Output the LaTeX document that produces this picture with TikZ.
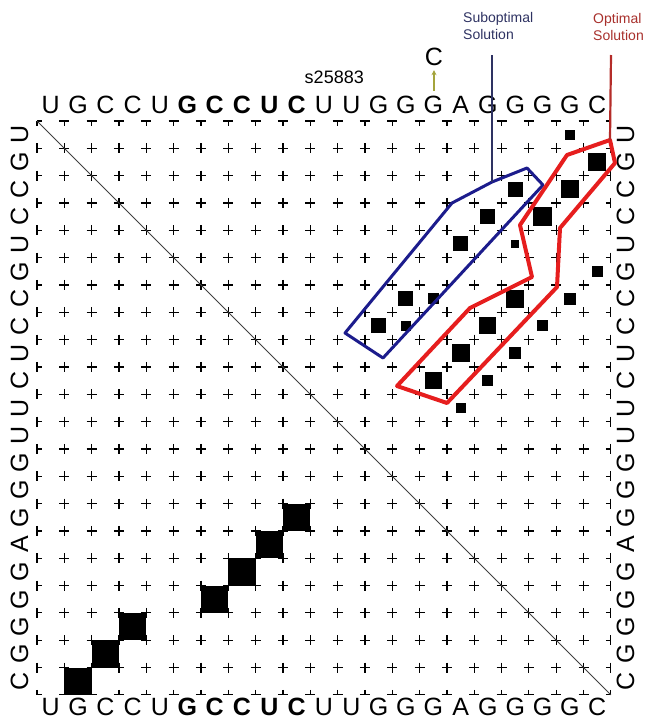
\documentclass[tikz,border=0pt]{standalone}
\usepackage{fontspec}
\setmainfont{Liberation Sans}
\usetikzlibrary{positioning,arrows.meta,calc}
\definecolor{subopt}{HTML}{1C1C8C}
\definecolor{subtext}{HTML}{2E3262}
\definecolor{optline}{HTML}{E61E1E}
\definecolor{opttext}{HTML}{A8302C}
\definecolor{mutation}{HTML}{A4A43C}
\newcommand{\seq}{U,G,C,C,U,G,C,C,U,C,U,U,G,G,G,A,G,G,G,G,C}
\newcommand{\pairdot}[3]{\fill ({37+27.33*(#1-0.5)-#3/2},{121+27.33*(#2-0.5)-#3/2}) rectangle ++(#3,#3);}

\begin{document}
\begin{tikzpicture}[x=1pt,y=-1pt,
  base/.style={font=\fontsize{25}{25}\selectfont,inner sep=0pt,text height=18pt,text depth=0pt},
  gridmark/.style={line width=1.1pt},
  caption/.style={font=\fontsize{14}{17}\selectfont,align=left,anchor=north west,inner sep=0pt}]
  \useasboundingbox (0,0) rectangle (646,724);

  \foreach \b [count=\i] in \seq {
    \ifnum\i>5 \ifnum\i<11 \def\w{\bfseries}\else\def\w{}\fi\else\def\w{}\fi
    \pgfmathsetmacro\c{37+27.33*(\i-0.5)}
    \node[base] (top\i) at (\c,104) {\w\b};
    \node[base] (bot\i) at (\c,706) {\w\b};
    \node[base,rotate=90] (lft\i) at (19,\c+84) {\b};
    \node[base,rotate=90] (rgt\i) at (625,\c+84) {\b};
  }

  \foreach \k in {0,...,21}{
    \foreach \l in {0,...,21}{
      \pgfmathsetmacro\gx{37+27.33*\k}
      \pgfmathsetmacro\gy{121+27.33*\l}
      \draw[gridmark] ({max(\gx-5,37)},\gy) -- ({min(\gx+5,610.93)},\gy)
        (\gx,{max(\gy-5,121)}) -- (\gx,{min(\gy+5,694.93)});
    }
  }
  \coordinate (tl) at (37,121);
  \coordinate (br) at (610.93,694.93);
  \draw[line width=0.8pt,black!75] (tl) -- (br);

  % minimum free energy structure
  \foreach \p/\q in {2/21,3/20,4/19,7/18,8/17,9/16,10/15}{\pairdot{\p}{\q}{27.3}}
  % pair probabilities
  \foreach \p/\q/\r in {20/1/10,21/2/18,18/3/15,20/3/18,17/4/15,19/4/19,18/5/8,16/5/15,
    21/6/11,14/7/15,15/7/11,18/7/18,20/7/12,13/8/15,14/8/10,17/8/17,19/8/11,
    16/9/18,18/9/12,15/10/17,17/10/11,16/11/10}{\pairdot{\p}{\q}{\r}}

  \coordinate (B1) at (452,203);
  \coordinate (B2) at (492,182);
  \coordinate (B3) at (527,168);
  \coordinate (B4) at (543,185);
  \coordinate (B5) at (383,358);
  \coordinate (B6) at (345,333);
  \draw[subopt,line width=3pt,line join=round] (B1) -- (B2) -- (B3) -- (B4) -- (B5) -- (B6) -- cycle;

  \coordinate (R1) at (610,140);
  \coordinate (R2) at (615,163);
  \coordinate (R3) at (560,228);
  \coordinate (R4) at (557,287);
  \coordinate (R5) at (447,403);
  \coordinate (R6) at (397,386);
  \coordinate (R7) at (470,308);
  \coordinate (R8) at (532,277);
  \coordinate (R9) at (520,225);
  \coordinate (R10) at (567,155);
  \draw[optline,line width=4pt,line join=round] (R1) -- (R2) -- (R3) -- (R4) -- (R5) -- (R6) -- (R7) -- (R8) -- (R9) -- (R10) -- cycle;

  \node[caption,text=subtext] (sublab) at (463,12) {Suboptimal\\Solution};
  \node[caption,text=opttext] (optlab) at (593,13) {Optimal\\Solution};
  \coordinate (subtop) at (492,55);
  \coordinate (opttop) at (611,55);
  \draw[subtext,line width=2.2pt] (subtop) -- (B2);
  \draw[opttext!80!optline,line width=2.2pt] (opttop) -- (R1);

  \node[font=\fontsize{18}{18}\selectfont,anchor=base east,inner sep=0pt] (name) at (364,83) {s25883};
  \node[base] (mut) at (434,56) {C};
  \coordinate (mutfoot) at (434,91);
  \draw[mutation,line width=1.3pt,-{Stealth[length=5pt,width=5pt]},shorten >=5pt] (mutfoot) -- (mut);
\end{tikzpicture}
\end{document}
